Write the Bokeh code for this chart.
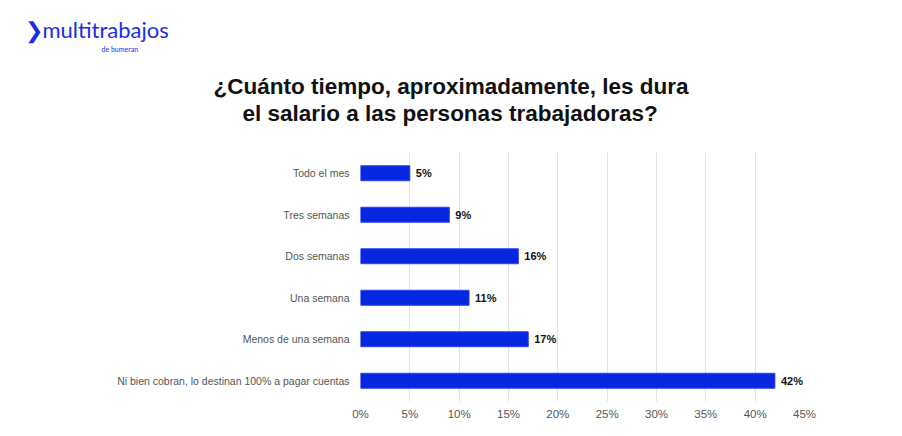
from bokeh.plotting import figure
from bokeh.models import (ColumnDataSource, FactorRange, Range1d, FixedTicker,
                          PrintfTickFormatter, LabelSet, Title)
from bokeh.core.properties import value
from bokeh.embed import file_html
from bokeh.resources import INLINE

categories = ["Todo el mes", "Tres semanas", "Dos semanas", "Una semana",
              "Menos de una semana",
              "Ni bien cobran, lo destinan 100% a pagar cuentas"]
values = [5, 9, 16, 11, 17, 42]
value_labels = ["5%", "9%", "16%", "11%", "17%", "42%"]
x_ticks = [0, 5, 10, 15, 20, 25, 30, 35, 40, 45]
title_lines = ["¿Cuánto tiempo, aproximadamente, les dura",
               "el salario a las personas trabajadoras?"]
logo_text = "❯multitrabajos"
logo_sub = "de bumeran"

src = ColumnDataSource(dict(cat=categories, val=values, lab=value_labels))

p = figure(width=902, height=436, output_backend="svg", toolbar_location=None,
           y_range=FactorRange(factors=list(reversed(categories)), range_padding=0),
           x_range=Range1d(0, 45),
           min_border_left=360, min_border_right=98,
           min_border_top=152, min_border_bottom=35)
p.outline_line_color = None
p.background_fill_color = "white"
p.border_fill_color = "white"

p.hbar(y="cat", right="val", left=0, height=0.36, source=src,
       fill_color="#0626e0", line_color="#2a45ee", line_width=1)

p.xaxis.ticker = FixedTicker(ticks=x_ticks)
p.xaxis.formatter = PrintfTickFormatter(format="%d%%")
p.xaxis.axis_line_color = None
p.xaxis.major_tick_line_color = None
p.xaxis.minor_tick_line_color = None
p.xaxis.major_tick_out = 0
p.xaxis.major_label_standoff = 6
p.xaxis.major_label_text_font = "Liberation Sans"
p.xaxis.major_label_text_font_size = "11.5px"
p.xaxis.major_label_text_color = "#555555"

p.yaxis.axis_line_color = None
p.yaxis.major_tick_line_color = None
p.yaxis.minor_tick_line_color = None
p.yaxis.major_tick_out = 0
p.yaxis.major_label_standoff = 11
p.yaxis.major_label_text_font = "Liberation Sans"
p.yaxis.major_label_text_font_size = "10.5px"
p.yaxis.major_label_text_color = "#555555"

p.ygrid.grid_line_color = None
p.xgrid.grid_line_color = "#e2e2e2"
p.xgrid.grid_line_width = 1

labels = LabelSet(x="val", y="cat", text="lab", source=src, x_offset=6,
                  text_baseline="middle", text_align="left",
                  text_font=value("Liberation Sans"), text_font_style="bold",
                  text_font_size="11px", text_color="#111111")
p.add_layout(labels)


def spacer(gap):
    # a blank title used only to reserve vertical room in the "above" panel
    return Title(text=" ", align="left", standoff=gap, text_font_size="1px")


# Above panel, stacked outward from the frame
p.add_layout(spacer(24), "above")
p.add_layout(Title(text=title_lines[1], align="left", offset=242 - 360, standoff=0,
                   text_font="Liberation Sans", text_font_style="bold",
                   text_font_size="22.5px", text_color="#111111"), "above")
p.add_layout(Title(text=title_lines[0], align="left", offset=213 - 360, standoff=0,
                   text_font="Liberation Sans", text_font_style="bold",
                   text_font_size="22.5px", text_color="#111111"), "above")
p.add_layout(spacer(16), "above")
p.add_layout(Title(text=logo_sub, align="left", offset=101 - 360, standoff=0,
                   text_font="Lato", text_font_style="normal",
                   text_font_size="7px", text_color="#1b2ee6"), "above")
p.add_layout(Title(text=logo_text, align="left", offset=24 - 360, standoff=0,
                   text_font="Lato", text_font_style="normal",
                   text_font_size="22px", text_color="#1b2ee6"), "above")

open("out.html", "w").write(file_html(p, INLINE))
